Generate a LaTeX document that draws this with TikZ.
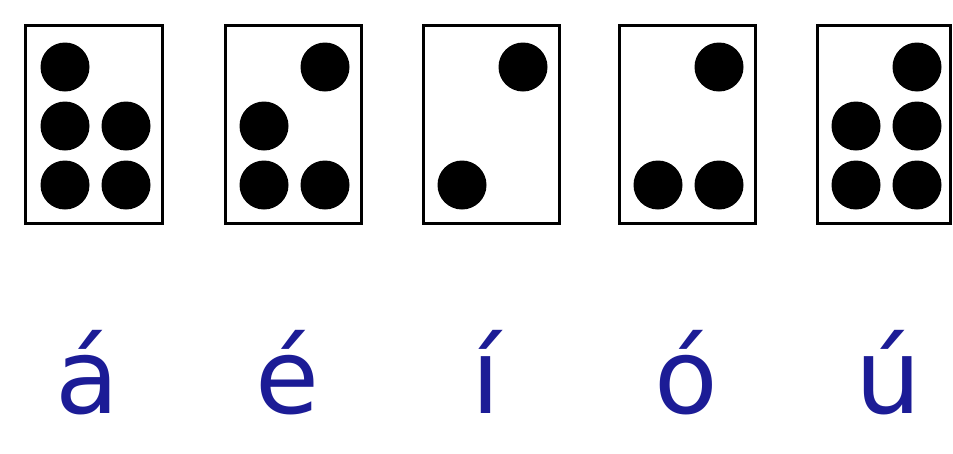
\documentclass[tikz,border=0pt]{standalone}
\usepackage{fontspec}
\setmainfont{DejaVu Sans}
\definecolor{letterblue}{RGB}{28,28,150}
\begin{document}
\begin{tikzpicture}[x=1pt,y=-1pt,
  cellbox/.style={draw=black,line width=3pt,fill=white},
  dot/.style={circle,fill=black,inner sep=0pt,minimum size=49pt},
  letter/.style={text=letterblue,font=\fontsize{104}{110}\selectfont,anchor=base,inner sep=0pt}]
\useasboundingbox (0,0) rectangle (953,453);
\fill[white] (0,0) rectangle (953,453);
% cells
\foreach \n/\x/\w in {1/25/137,2/225/136,3/423/136,4/619/136,5/817/133}{
  \draw[cellbox] (\x,25) rectangle ++(\w,198);
}
% dots: col1 = left+40, col2 = left+101; rows 67,126,185
% a: 1,2,4,5,6 -> dots 1 (c1r1), 2 (c1r2), 3? ; pattern shown
\node[dot] (a1) at (65,67) {};
\node[dot] (a2) at (65,126) {};
\node[dot] (a3) at (126,126) {};
\node[dot] (a4) at (65,185) {};
\node[dot] (a5) at (126,185) {};
\node[dot] (e1) at (325,67) {};
\node[dot] (e2) at (264,126) {};
\node[dot] (e3) at (264,185) {};
\node[dot] (e4) at (325,185) {};
\node[dot] (i1) at (523,67) {};
\node[dot] (i2) at (462,185) {};
\node[dot] (o1) at (719,67) {};
\node[dot] (o2) at (658,185) {};
\node[dot] (o3) at (719,185) {};
\node[dot] (u1) at (917,67) {};
\node[dot] (u2) at (856,126) {};
\node[dot] (u3) at (917,126) {};
\node[dot] (u4) at (856,185) {};
\node[dot] (u5) at (917,185) {};
% letters
\node[letter] (la) at (87,413) {á};
\node[letter] (le) at (287,413) {é};
\node[letter] (li) at (486,413) {í};
\node[letter] (lo) at (686,413) {ó};
\node[letter] (lu) at (888,413) {ú};
\end{tikzpicture}
\end{document}
